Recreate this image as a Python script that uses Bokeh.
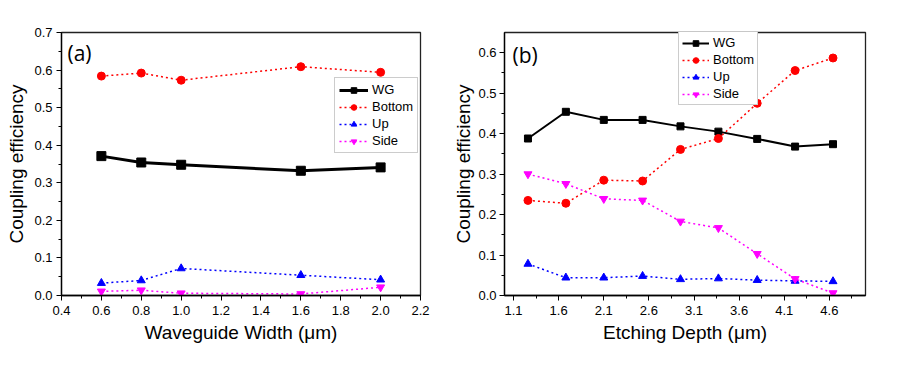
from bokeh.plotting import figure
from bokeh.layouts import row
from bokeh.models import FixedTicker, Legend, LegendItem, Label, Range1d, PrintfTickFormatter
from bokeh.embed import file_html
from bokeh.resources import INLINE

# ---- data: panel (a) ----
width_um = [0.6, 0.8, 1.0, 1.6, 2.0]
a_wg = [0.371, 0.354, 0.348, 0.332, 0.341]
a_bottom = [0.584, 0.592, 0.573, 0.609, 0.594]
a_up = [0.033, 0.040, 0.072, 0.054, 0.042]
a_side = [0.011, 0.014, 0.006, 0.004, 0.022]

# ---- data: panel (b) ----
depth_um = [1.26, 1.68, 2.10, 2.53, 2.95, 3.37, 3.80, 4.22, 4.64]
b_wg = [0.388, 0.454, 0.434, 0.434, 0.418, 0.405, 0.387, 0.368, 0.374]
b_bottom = [0.235, 0.228, 0.285, 0.283, 0.361, 0.388, 0.475, 0.556, 0.587]
b_up = [0.078, 0.044, 0.044, 0.048, 0.040, 0.042, 0.038, 0.036, 0.035]
b_side = [0.300, 0.276, 0.239, 0.235, 0.183, 0.167, 0.103, 0.041, 0.006]

# ---- ticks ----
a_xticks = [0.4, 0.6, 0.8, 1.0, 1.2, 1.4, 1.6, 1.8, 2.0, 2.2]
a_xminor = [0.5, 0.7, 0.9, 1.1, 1.3, 1.5, 1.7, 1.9, 2.1]
a_yticks = [0.0, 0.1, 0.2, 0.3, 0.4, 0.5, 0.6, 0.7]
a_yminor = [0.05, 0.15, 0.25, 0.35, 0.45, 0.55, 0.65]
b_xticks = [1.1, 1.6, 2.1, 2.6, 3.1, 3.6, 4.1, 4.6]
b_xminor = [1.35, 1.85, 2.35, 2.85, 3.35, 3.85, 4.35, 4.85]
b_yticks = [0.0, 0.1, 0.2, 0.3, 0.4, 0.5, 0.6]
b_yminor = [0.05, 0.15, 0.25, 0.35, 0.45, 0.55]

series_names = ["WG", "Bottom", "Up", "Side"]
colors = ["black", "#ff0000", "#0000ff", "#ff00ff"]
markers = ["square", "circle", "triangle", "inverted_triangle"]

FONT = "Liberation Sans"


def style(p, xt, xm, yt, ym, xlabel):
    p.xaxis.ticker = FixedTicker(ticks=xt, minor_ticks=xm)
    p.yaxis.ticker = FixedTicker(ticks=yt, minor_ticks=ym)
    p.xaxis.formatter = PrintfTickFormatter(format="%.1f")
    p.yaxis.formatter = PrintfTickFormatter(format="%.1f")
    p.xgrid.visible = False
    p.ygrid.visible = False
    for ax in (p.xaxis, p.yaxis):
        ax.major_tick_in = 0
        ax.major_tick_out = 5
        ax.minor_tick_in = 0
        ax.minor_tick_out = 3
        ax.axis_line_color = "black"
        ax.axis_line_width = 1.3
        ax.major_tick_line_color = "black"
        ax.minor_tick_line_color = "black"
        ax.major_label_text_font = FONT
        ax.major_label_text_font_size = "13px"
        ax.major_label_text_color = "black"
        ax.axis_label_text_font = FONT
        ax.axis_label_text_font_size = "19px"
        ax.axis_label_text_font_style = "normal"
        ax.axis_label_text_color = "black"
        ax.axis_label_standoff = 4
    p.yaxis.major_label_standoff = 4
    p.xaxis.major_label_standoff = 5
    p.xaxis.axis_label = xlabel
    p.yaxis.axis_label = "Coupling efficiency"
    p.outline_line_color = "#222222"
    p.outline_line_width = 1.3
    p.background_fill_color = "white"
    p.border_fill_color = "white"


def add_series(p, x, ys, wg_width, sizes):
    items = []
    for name, y, c, m, s in zip(series_names, ys, colors, markers, sizes):
        if name == "WG":
            lr = p.line(x, y, line_color=c, line_width=wg_width)
        else:
            lr = p.line(x, y, line_color=c, line_width=1.5, line_dash="2 3")
        sr = p.scatter(x, y, marker=m, size=s, fill_color=c, line_color=c)
        items.append(LegendItem(label=name, renderers=[lr, sr]))
    return items


def make_legend(items, loc, pad, gw):
    lg = Legend(items=items, location=loc)
    lg.label_text_font = FONT
    lg.label_text_font_size = "13px"
    lg.label_text_color = "black"
    lg.glyph_width = gw
    lg.glyph_height = 14
    lg.label_height = 14
    lg.spacing = 2
    lg.padding = pad
    lg.margin = 0
    lg.label_standoff = 4
    lg.border_line_color = "#999999"
    lg.border_line_width = 1
    lg.background_fill_alpha = 1
    return lg


# ---- panel (a) ----
p1 = figure(width=450, height=375, output_backend="svg", toolbar_location=None,
            x_range=Range1d(0.4, 2.2), y_range=Range1d(0.0, 0.7),
            min_border_left=61, min_border_right=30, min_border_top=32, min_border_bottom=80)
style(p1, a_xticks, a_xminor, a_yticks, a_yminor, "Waveguide Width (μm)")
items1 = add_series(p1, width_um, [a_wg, a_bottom, a_up, a_side], 3, [9, 8, 8, 8])
p1.add_layout(make_legend(items1, (273, 142), 4, 29))
p1.add_layout(Label(x=6, y=257, x_units="screen", y_units="screen", text="(a)",
                    text_font="Open Sans", text_font_size="21px", text_baseline="top",
                    text_color="black"))

# ---- panel (b) ----
p2 = figure(width=450, height=375, output_backend="svg", toolbar_location=None,
            x_range=Range1d(1.0, 5.0), y_range=Range1d(0.0, 0.65),
            min_border_left=52, min_border_right=35, min_border_top=29, min_border_bottom=80)
style(p2, b_xticks, b_xminor, b_yticks, b_yminor, "Etching Depth (μm)")
p2.yaxis.axis_label_standoff = 1
p2.yaxis.major_label_standoff = 3
items2 = add_series(p2, depth_um, [b_wg, b_bottom, b_up, b_side], 2, [7, 8, 8, 8])
p2.add_layout(make_legend(items2, (174, 190), 3, 27))
p2.add_layout(Label(x=8, y=255, x_units="screen", y_units="screen", text="(b)",
                    text_font="Open Sans", text_font_size="21px", text_baseline="top",
                    text_color="black"))

layout = row(p1, p2)
open("out.html", "w").write(file_html(layout, INLINE))
